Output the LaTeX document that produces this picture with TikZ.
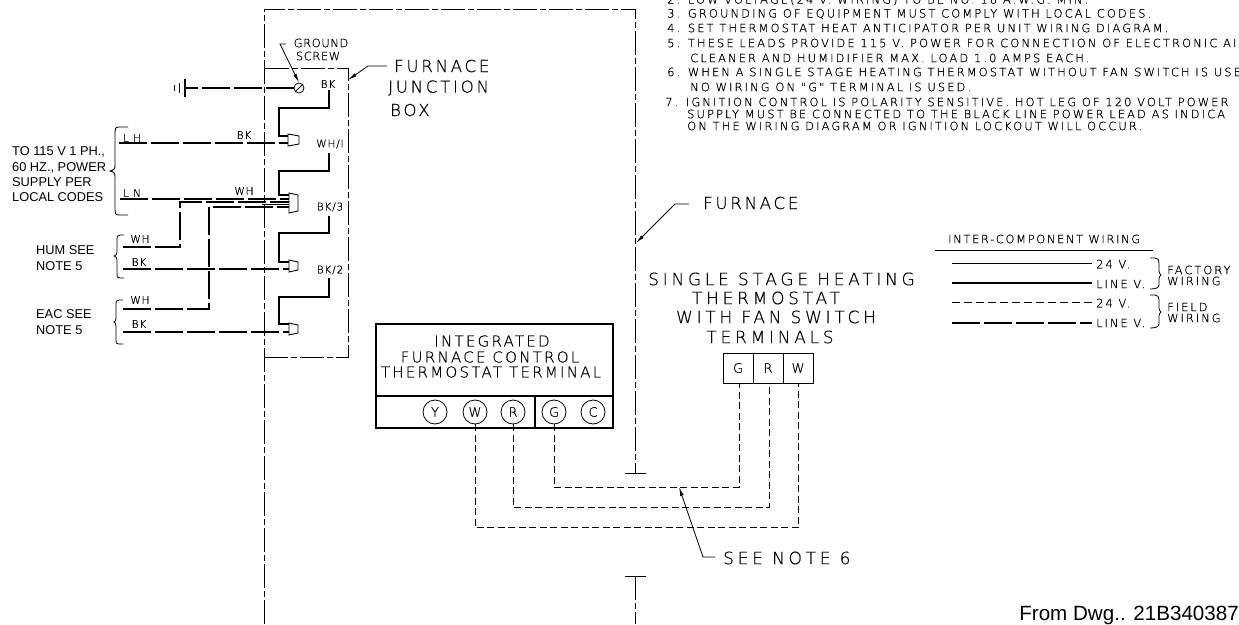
\documentclass[tikz,border=0pt]{standalone}
\usepackage{fontspec}
\setmainfont{Liberation Sans}
\newfontfamily\dfn[LetterSpace=18,FakeBold=0.5]{DejaVu Sans ExtraLight}
\newfontfamily\dft[LetterSpace=14,FakeBold=0.5]{DejaVu Sans ExtraLight}
\newfontfamily\dfs[LetterSpace=17,FakeBold=0.5]{DejaVu Sans ExtraLight}
\newfontfamily\dfl[LetterSpace=8,FakeBold=0.5]{DejaVu Sans ExtraLight}
\newfontfamily\dfg[LetterSpace=5,FakeBold=0.5]{DejaVu Sans ExtraLight}
\newfontfamily\dfb[LetterSpace=17,FakeBold=0.5]{DejaVu Sans ExtraLight}
\newfontfamily\dfd[LetterSpace=22,FakeBold=0.5]{DejaVu Sans ExtraLight}
\newfontfamily\dfc[LetterSpace=15,FakeBold=0.5]{DejaVu Sans ExtraLight}
\newfontfamily\dfz[FakeBold=0.5]{DejaVu Sans ExtraLight}
\usetikzlibrary{arrows.meta}
\tikzset{
  x=1pt,y=-1pt,
  thin line/.style={line width=0.8pt,black},
  furn/.style={line width=0.8pt,dash pattern=on 24pt off 3pt on 6pt off 3pt},
  thick wire/.style={line width=1.7pt,line join=miter},
  line wire/.style={line width=1.5pt,dash pattern=on 28pt off 4pt},
  field/.style={line width=0.8pt,dash pattern=on 7pt off 3.5pt},
  box/.style={line width=1.5pt},
  term/.style={draw,circle,line width=0.8pt,minimum size=24pt,inner sep=0pt,font=\dfz\fontsize{13}{13}\selectfont},
  lab/.style={inner sep=0pt,anchor=center,font=\dfl\fontsize{10.5}{10.5}\selectfont},
  gnlab/.style={inner sep=0pt,anchor=center,font=\dfg\fontsize{11.5}{11.5}\selectfont},
  big/.style={inner sep=0pt,anchor=west,font=\dfb\fontsize{16.5}{16.5}\selectfont},
  wide/.style={inner sep=0pt,anchor=center,font=\dfd\fontsize{17}{17}\selectfont},
  mid/.style={inner sep=0pt,anchor=center,font=\dfc\fontsize{15}{15}\selectfont},
  small/.style={inner sep=0pt,anchor=west,font=\dfs\fontsize{11.5}{11.5}\selectfont},
  legtitle/.style={inner sep=0pt,anchor=west,font=\dft\fontsize{11.5}{11.5}\selectfont},
  note/.style={inner sep=0pt,anchor=west,font=\dfn\fontsize{11.5}{11.5}\selectfont},
  plain/.style={inner sep=0pt,anchor=west,font=\fontsize{12.8}{12.8}\selectfont},
  tip/.style={-{Latex[length=9pt,width=3.5pt]}},
  conn/.style={line width=0.9pt,fill=white},
  tbox/.style={draw,line width=0.9pt,minimum width=30pt,minimum height=30pt,inner sep=0pt,font=\dfz\fontsize{13}{13}\selectfont},
}
\begin{document}
\begin{tikzpicture}
\useasboundingbox (0,0) rectangle (1239,624);
\clip (0,0) rectangle (1239,624);
% named coordinates
\coordinate (FTL) at (264,9);
\coordinate (FTR) at (635,9);
\coordinate (FBL) at (264,624);
\coordinate (FE1) at (635,473);
\coordinate (FE2) at (635,576);
\coordinate (FE3) at (635,624);
\coordinate (JTL) at (264,68);
\coordinate (JTR) at (348,68);
\coordinate (JBR) at (348,357);
\coordinate (JBL) at (264,357);
% furnace outline
\draw[furn] (FBL) -- (FTL) -- (FTR) -- (FE1);
\draw[furn] (FE2) -- (FE3);
\draw[line width=0.8pt] (625,473) -- (646,473) (625,576) -- (646,576);
% junction box
\draw[furn] (JBL) -- (JBR) -- (JTR) -- (JTL);
% ground
\node[draw,circle,line width=0.8pt,minimum size=10pt,inner sep=0pt] (screw) at (299,88) {};
\draw[line width=0.8pt] (295,92) -- (303,84);
\coordinate (gnd) at (185,88);
\draw[line wire,line width=2pt] (screw.west) -- (gnd);
\draw[line width=1.8pt] (185,79) -- (185,97);
\draw[line width=1.5pt] (179.5,83) -- (179.5,93);
\draw[line width=1.5pt] (174.5,85) -- (174.5,91);
\coordinate (gl1) at (286,44); \coordinate (gl2) at (280,44);
\draw[thin line,tip] (gl1) -- (gl2) -- (screw.north);
\node[gnlab] (gs1) at (321,43) {GROUND};
\node[gnlab] (gs2) at (318,56) {SCREW};
% junction label
\coordinate (jl1) at (387,66); \coordinate (jl2) at (368,66); \coordinate (jl3) at (348,80);
\draw[thin line,tip] (jl1) -- (jl2) -- (jl3);
\node[big] (j1) at (394,66) {FURNACE};
\node[big] (j2) at (388,88) {JUNCTION};
\node[big] (j3) at (390,110) {BOX};
% connectors
\node[lab] (bk1) at (328,84) {BK};
\node[lab] (wh1) at (330,144) {WH/I};
\node[lab] (bk3) at (330,207) {BK/3};
\node[lab] (bk2) at (330,270) {BK/2};
\coordinate (c1) at (288,136);
\coordinate (c2) at (289,195);
\coordinate (c3) at (289,262);
\coordinate (c4) at (289,324);
\draw[thick wire] (329,90) -- (329,108) -- (279,108) -- (279,136) -- (c1);
\draw[thick wire] (329,153) -- (329,171) -- (279,171) -- (279,195) -- (c2);
\draw[thick wire] (329,216) -- (329,233) -- (279,233) -- (279,262) -- (c3);
\draw[thick wire] (329,278) -- (329,297) -- (279,297) -- (279,324) -- (c4);
% line-voltage wires
\coordinate (lh) at (119,143);
\coordinate (ln) at (120,199);
\draw[line wire] (lh) -- (288,143);
\draw[line wire] (ln) -- (289,199);
\draw[line wire] (123,247) -- (180,247) -- (180,202) -- (289,202);
\draw[line wire,line width=1.2pt] (262,204.5) -- (289,204.5);
\draw[line wire] (123,309) -- (209,309) -- (209,207) -- (289,207);
\draw[line wire,line width=1.3pt] (123,269) -- (289,269);
\draw[line wire,line width=1.3pt] (123,332) -- (289,332);
\draw[conn] (288,134) -- (299,136) -- (299,144) -- (288,146) -- cycle;
\draw[conn] (289,193) -- (298,195) -- (298,211) -- (289,213) -- cycle;
\draw[conn] (289,260) -- (298,262) -- (298,270) -- (289,272) -- cycle;
\draw[conn] (289,323) -- (298,325) -- (298,333) -- (289,335) -- cycle;
% wire labels
\node[lab] (lhl) at (132,138) {L H};
\node[lab] (bkl) at (244,135) {BK};
\node[lab] (lnl) at (132,193) {L N};
\node[lab] (whl) at (244,191) {WH};
\node[lab] (whh) at (140,239) {WH};
\node[lab] (bkh) at (139,262) {BK};
\node[lab] (whe) at (140,300) {WH};
\node[lab] (bke) at (139,324) {BK};
% left labels
\node[plain] (t1) at (12,152) {TO 115 V 1 PH.,};
\node[plain] (t2) at (12,168) {60 HZ., POWER};
\node[plain] (t3) at (12,182) {SUPPLY PER};
\node[plain] (t4) at (12,197) {LOCAL CODES};
\node[plain] (h1) at (36,250) {HUM SEE};
\node[plain] (h2) at (36,266) {NOTE 5};
\node[plain] (e1) at (36,314) {EAC SEE};
\node[plain] (e2) at (36,330) {NOTE 5};
% braces
\draw[line width=0.9pt] (128,127) -- (119,127) .. controls (115,127) and (115,129) .. (115,132) -- (115,165) .. controls (115,169) and (114,170) .. (110,171) .. controls (114,172) and (115,173) .. (115,177) -- (115,210) .. controls (115,213) and (115,215) .. (119,215) -- (128,215);
\draw[thin line] (124,235) -- (120,235) .. controls (117,235) and (117,237) .. (117,239) -- (117,252) .. controls (117,255) and (116,255) .. (114,256) .. controls (116,257) and (117,257) .. (117,260) -- (117,274) .. controls (117,277) and (117,278) .. (120,278) -- (124,278);
\draw[thin line] (123,300) -- (119,300) .. controls (116,300) and (116,302) .. (116,304) -- (116,318) .. controls (116,321) and (115,321) .. (114,322) .. controls (115,323) and (116,323) .. (116,326) -- (116,340) .. controls (116,343) and (116,344) .. (119,344) -- (123,344);
% control box
\node[draw,box,minimum width=237pt,minimum height=72pt,inner sep=0pt] (ctl) at (494.5,360) {};
\node[draw,box,minimum width=237pt,minimum height=32pt,inner sep=0pt] (ctlb) at (494.5,412) {};
\draw[box] (535,396) -- (535,428);
\node[mid] (ct1) at (492,341) {INTEGRATED};
\node[mid] (ct2) at (490,357) {FURNACE CONTROL};
\node[mid] (ct3) at (491,372) {THERMOSTAT TERMINAL};
\node[term] (Y) at (435,412) {Y};
\node[term] (W) at (475,412) {W};
\node[term] (R) at (513,412) {R};
\node[term] (G) at (554,412) {G};
\node[term] (C) at (593,412) {C};
% thermostat
\node[wide] (s1) at (781.5,279) {SINGLE STAGE HEATING};
\node[wide] (s2) at (766,298) {THERMOSTAT};
\node[wide] (s3) at (776,317) {WITH FAN SWITCH};
\node[wide] (s4) at (770,337) {TERMINALS};
\node[tbox] (tG) at (738,368) {G};
\node[tbox] (tR) at (768,368) {R};
\node[tbox] (tW) at (798,368) {W};
% field wires
\draw[field] (G.south) -- (554,487) -- (739,487) -- (739,383);
\draw[field] (R.south) -- (513,507) -- (769,507) -- (769,383);
\draw[field] (W.south) -- (475,527.5) -- (798.5,527.5) -- (798.5,383);
% see note
\coordinate (sn1) at (715,557); \coordinate (sn2) at (703,557); \coordinate (sn3) at (679,487);
\draw[thin line,tip] (sn1) -- (sn2) -- (sn3);
\node[wide,anchor=west] (sn) at (723,558) {SEE NOTE 6};
% furnace label
\coordinate (fl1) at (689,204); \coordinate (fl2) at (675,204); \coordinate (fl3) at (636,243);
\draw[thin line,tip] (fl1) -- (fl2) -- (fl3);
\node[big] (f) at (703,203) {FURNACE};
% legend
\node[legtitle] (lg) at (948,239) {INTER-COMPONENT WIRING};
\coordinate (u1) at (935,250); \coordinate (u2) at (1153,250);
\draw[thin line] (u1) -- (u2);
\coordinate (a1) at (952,263); \coordinate (a2) at (1092,263);
\coordinate (b1) at (952,283); \coordinate (b2) at (1092,283);
\coordinate (d1) at (952,302); \coordinate (d2) at (1092,302);
\coordinate (e3) at (952,323); \coordinate (e4) at (1092,323);
\draw[thin line] (a1) -- (a2);
\draw[line width=1.5pt] (b1) -- (b2);
\draw[field,dash pattern=on 8pt off 4pt] (d1) -- (d2);
\draw[line wire,dash pattern=on 28pt off 4pt] (e3) -- (e4);
\node[small] (v1) at (1096,264) {24 V.};
\node[small] (v2) at (1096,284) {LINE V.};
\node[small] (v3) at (1096,303) {24 V.};
\node[small] (v4) at (1096,323) {LINE V.};
\draw[thin line] (1150,258) -- (1155,258) .. controls (1158,258) and (1159,260) .. (1159,263) -- (1159,271) .. controls (1159,273) and (1160,274) .. (1161,275) .. controls (1160,276) and (1159,277) .. (1159,279) -- (1159,285) .. controls (1159,288) and (1155,289) .. (1150,289);
\draw[thin line] (1150,295) -- (1155,295) .. controls (1158,295) and (1159,297) .. (1159,300) -- (1159,308) .. controls (1159,310) and (1160,311) .. (1161,312) .. controls (1160,313) and (1159,314) .. (1159,316) -- (1159,324) .. controls (1159,327) and (1155,328) .. (1150,328);
\node[small] (fa) at (1167,270) {FACTORY};
\node[small] (fb) at (1167,281) {WIRING};
\node[small] (fc) at (1167,307) {FIELD};
\node[small] (fd) at (1167,318) {WIRING};
% notes
\node[note] (n2) at (667,0) {2. LOW VOLTAGE(24 V. WIRING) TO BE NO. 18 A.W.G. MIN.};
\node[note] (n3) at (667,14) {3. GROUNDING OF EQUIPMENT MUST COMPLY WITH LOCAL CODES.};
\node[note] (n4) at (667,28) {4. SET THERMOSTAT HEAT ANTICIPATOR PER UNIT WIRING DIAGRAM.};
\node[note] (n5) at (667,43) {5. THESE LEADS PROVIDE 115 V. POWER FOR CONNECTION OF ELECTRONIC AI};
\node[note] (n5b) at (690,58) {CLEANER AND HUMIDIFIER MAX. LOAD 1.0 AMPS EACH.};
\node[note] (n6) at (667,72) {6. WHEN A SINGLE STAGE HEATING THERMOSTAT WITHOUT FAN SWITCH IS USE};
\node[note] (n6b) at (690,87) {NO WIRING ON "G" TERMINAL IS USED.};
\node[note] (n7) at (665,102) {7. IGNITION CONTROL IS POLARITY SENSITIVE. HOT LEG OF 120 VOLT POWER};
\node[note] (n7b) at (687,114) {SUPPLY MUST BE CONNECTED TO THE BLACK LINE POWER LEAD AS INDICA};
\node[note] (n7c) at (687,126) {ON THE WIRING DIAGRAM OR IGNITION LOCKOUT WILL OCCUR.};
\node[inner sep=0pt,anchor=base east,font=\fontsize{20.6}{20.6}\selectfont] (dwg) at (1239,620.5) {From Dwg.. 21B340387};
\end{tikzpicture}
\end{document}
